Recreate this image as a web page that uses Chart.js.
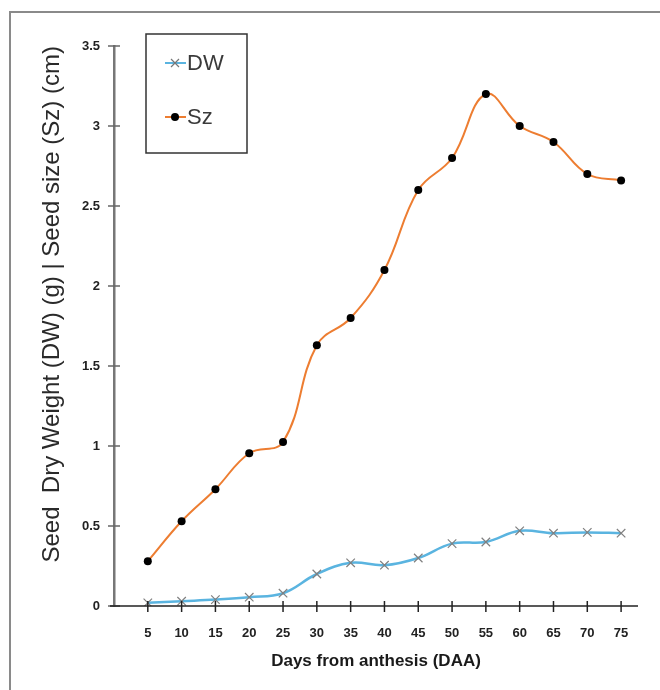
<!DOCTYPE html>
<html>
<head>
<meta charset="utf-8">
<script src="https://cdn.jsdelivr.net/npm/chart.js@4"></script>
<style>
html,body{margin:0;padding:0;background:#fff;}
#wrap{width:660px;height:690px;position:relative;}
</style>
</head>
<body>
<div id="wrap"><canvas id="c" width="660" height="690"></canvas></div>
<script>
const days = [5,10,15,20,25,30,35,40,45,50,55,60,65,70,75];
const dwValues = [0.02,0.03,0.04,0.055,0.08,0.2,0.27,0.255,0.3,0.39,0.4,0.47,0.455,0.46,0.455];
const szValues = [0.28,0.53,0.73,0.955,1.025,1.63,1.8,2.1,2.6,2.8,3.2,3.0,2.9,2.7,2.66];
const yTicks = [0,0.5,1,1.5,2,2.5,3,3.5];
const seriesNames = ['DW','Sz'];
const xTitle = 'Days from anthesis (DAA)';
const yTitle = 'Seed  Dry Weight (DW) (g) | Seed size (Sz) (cm)';

const toPts = vals => days.map((d,i)=>({x:d,y:vals[i]}));

const decor = {
  id:'decor',
  beforeDraw(chart){
    const ctx = chart.ctx;
    ctx.save();
    ctx.fillStyle='#fff';
    ctx.fillRect(0,0,chart.width,chart.height);
    ctx.strokeStyle='#8a8a8a';
    ctx.lineWidth=2;
    ctx.beginPath();
    ctx.moveTo(10,690); ctx.lineTo(10,12); ctx.lineTo(660,12);
    ctx.stroke();
    ctx.restore();
  },
  afterDraw(chart){
    const ctx = chart.ctx;
    const xs = chart.scales.x, ys = chart.scales.y;
    const area = chart.chartArea;
    ctx.save();
    ctx.strokeStyle='#666'; ctx.lineWidth=1.5;
    yTicks.forEach(v=>{
      const py = ys.getPixelForValue(v);
      ctx.beginPath(); ctx.moveTo(area.left-6,py); ctx.lineTo(area.left+6,py); ctx.stroke();
    });
    ctx.strokeStyle='#222'; ctx.lineWidth=1.5;
    ctx.beginPath(); ctx.moveTo(area.left-4,area.bottom); ctx.lineTo(area.right,area.bottom); ctx.stroke();
    days.forEach(d=>{
      const px = xs.getPixelForValue(d);
      ctx.beginPath(); ctx.moveTo(px,area.bottom-5); ctx.lineTo(px,area.bottom+6); ctx.stroke();
    });
    const lx=146, ly=34, lw=101, lh=119;
    ctx.strokeStyle='#333'; ctx.lineWidth=1.5;
    ctx.strokeRect(lx,ly,lw,lh);
    const items=[
      {name:seriesNames[0], y:63, color:'#5ab4e0', marker:'x'},
      {name:seriesNames[1], y:117, color:'#ed7d31', marker:'dot'}
    ];
    items.forEach(it=>{
      ctx.strokeStyle=it.color; ctx.lineWidth=2;
      ctx.beginPath(); ctx.moveTo(165,it.y); ctx.lineTo(186,it.y); ctx.stroke();
      if(it.marker==='x'){
        ctx.strokeStyle='#777'; ctx.lineWidth=1.2;
        ctx.beginPath();
        ctx.moveTo(171,it.y-4); ctx.lineTo(179,it.y+4);
        ctx.moveTo(179,it.y-4); ctx.lineTo(171,it.y+4);
        ctx.stroke();
      } else {
        ctx.fillStyle='#000';
        ctx.beginPath(); ctx.arc(175,it.y,4,0,Math.PI*2); ctx.fill();
      }
      ctx.fillStyle='#3a3a3a';
      ctx.font='22px Arial, "Liberation Sans", sans-serif';
      ctx.textBaseline='middle';
      ctx.textAlign='left';
      ctx.fillText(it.name,187,it.y+1);
    });
    ctx.restore();
  }
};

new Chart(document.getElementById('c'),{
  type:'line',
  data:{
    datasets:[
      {
        label:seriesNames[0],
        data:toPts(dwValues),
        borderColor:'#5ab4e0',
        borderWidth:2.5,
        tension:0.4,
        pointStyle:'crossRot',
        pointRadius:6,
        pointBorderColor:'#808080',
        pointBorderWidth:1.2,
        pointBackgroundColor:'#808080'
      },
      {
        label:seriesNames[1],
        data:toPts(szValues),
        borderColor:'#ed7d31',
        borderWidth:2,
        tension:0.4,
        pointStyle:'circle',
        pointRadius:4,
        pointBorderWidth:0,
        pointBackgroundColor:'#000',
        pointBorderColor:'#000'
      }
    ]
  },
  options:{
    responsive:false,
    animation:false,
    devicePixelRatio:1,
    layout:{padding:{left:38,top:46,right:22,bottom:0}},
    plugins:{legend:{display:false},tooltip:{enabled:false}},
    scales:{
      x:{
        type:'linear',
        min:0,max:77.5,
        afterBuildTicks(s){ s.ticks = days.map(d=>({value:d})); },
        afterFit(s){ s.height=84; },
        grid:{display:false,drawTicks:false},
        border:{display:false},
        ticks:{
          padding:20,
          color:'#222',
          font:{family:'Arial, "Liberation Sans", sans-serif',size:13,weight:'bold'},
          autoSkip:false,maxRotation:0
        },
        title:{
          display:true,text:xTitle,color:'#1a1a1a',
          font:{family:'Arial, "Liberation Sans", sans-serif',size:17,weight:'bold'},
          padding:{top:0,bottom:18}
        }
      },
      y:{
        min:0,max:3.5,
        afterBuildTicks(s){ s.ticks = yTicks.map(v=>({value:v})); },
        afterFit(s){ s.width=76; },
        grid:{display:false,drawTicks:false},
        border:{display:true,color:'#777',width:2.5},
        ticks:{
          padding:14,
          color:'#222',
          callback:(v)=>String(v),
          font:{family:'Arial, "Liberation Sans", sans-serif',size:13,weight:'bold'}
        },
        title:{
          display:true,text:yTitle,color:'#2a2a2a',align:'end',
          font:{family:'Arial, "Liberation Sans", sans-serif',size:24},
          padding:{top:0,bottom:0}
        }
      }
    }
  },
  plugins:[decor]
});
</script>
</body>
</html>
